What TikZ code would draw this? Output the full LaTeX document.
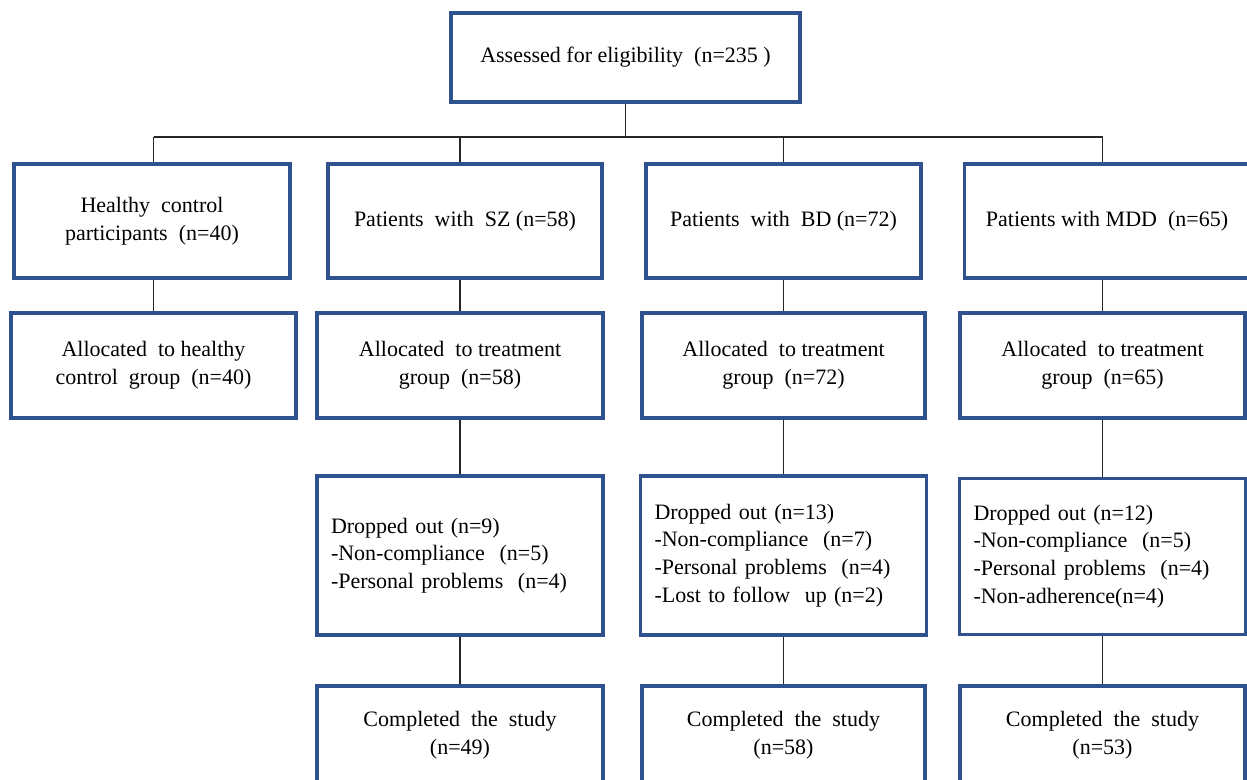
\documentclass[tikz,border=0pt]{standalone}
\usepackage{fontspec}
\setmainfont{Liberation Serif}
\usetikzlibrary{positioning}
\definecolor{boxblue}{RGB}{47,82,143}
\begin{document}
\begin{tikzpicture}[x=0.5pt, y=-0.5pt, thick,
                block/.style={rectangle, draw=boxblue, line width=1.6pt, fill=white, align=center,
                    inner sep=2pt, font=\fontsize{11}{13.8}\selectfont},
                groupblock/.style={block, minimum width=137pt, minimum height=57pt},
                allocblock/.style={block, minimum width=142.5pt, minimum height=52.5pt},
                dropblock/.style={block, minimum width=143pt, minimum height=79.5pt,
                    align=left, text width=129pt, inner xsep=7pt},
                doneblock/.style={block, minimum width=143pt, minimum height=49pt},
                link/.style={draw=black!85, line width=0.7pt}
            ]
            \useasboundingbox (0,0) rectangle (1247,780);

            % Eligibility
            \node[block, minimum width=174.5pt, minimum height=44.5pt] (elig) at (625.5, 57.5)
                {Assessed for eligibility~ (n=235 )};
            \coordinate (bus) at (625.5, 137);

            % Groups
            \node[groupblock, minimum width=138pt] (hc) at (152, 221) {Healthy~ control\\participants~ (n=40)};
            \node[groupblock] (sz) at (465, 221) {Patients~ with~ SZ (n=58)};
            \node[groupblock, minimum width=137.5pt] (bd) at (783.5, 221) {Patients~ with~ BD (n=72)};
            \node[groupblock, minimum width=142.5pt] (mdd) at (1107, 221) {Patients with MDD~ (n=65)};

            % Allocation
            \node[allocblock] (hcal) at (153.5, 365.5) {Allocated~ to healthy\\control~ group~ (n=40)};
            \node[allocblock, minimum width=143pt] (szal) at (460, 365.5) {Allocated~ to treatment\\group~ (n=58)};
            \node[allocblock, minimum width=141.5pt] (bdal) at (783.5, 365.5) {Allocated~ to treatment\\group~ (n=72)};
            \node[allocblock] (mddal) at (1102.5, 365.5) {Allocated~ to treatment\\group~ (n=65)};

            % Drop-outs
            \node[dropblock] (szdr) at (460, 555.5)
                {Dropped out (n=9)\\-Non-compliance~ (n=5)\\-Personal problems~ (n=4)};
            \node[dropblock, minimum width=141.5pt] (bddr) at (783.5, 555.5)
                {Dropped out (n=13)\\-Non-compliance~ (n=7)\\-Personal problems~ (n=4)\\-Lost to follow~ up (n=2)};
            \node[dropblock, minimum width=142.5pt, minimum height=78pt] (mdddr) at (1102.5, 556.5)
                {Dropped out (n=12)\\-Non-compliance~ (n=5)\\-Personal problems~ (n=4)\\-Non-adherence(n=4)};

            % Completed
            \node[doneblock] (szdn) at (460, 735) {Completed~ the~ study\\(n=49)};
            \node[doneblock, minimum width=141.5pt] (bddn) at (783.5, 735) {Completed~ the~ study\\(n=58)};
            \node[doneblock, minimum width=142.5pt] (mdddn) at (1102.5, 735) {Completed~ the~ study\\(n=53)};

            % Connectors
            \draw[link] (elig.south) -- (bus);
            \draw[link] (bus -| hcal.north) -- (bus -| mddal.north);
            \foreach \grp in {hc, sz, bd, mdd} {
                \draw[link] (bus -| \grp al.north) -- (\grp al.north |- \grp.north);
                \draw[link] (\grp al.north |- \grp.south) -- (\grp al.north);
            }
            \foreach \grp in {sz, bd, mdd} {
                \draw[link] (\grp al.south) -- (\grp dr.north);
                \draw[link] (\grp dr.south) -- (\grp dn.north);
            }

        \end{tikzpicture}
\end{document}
